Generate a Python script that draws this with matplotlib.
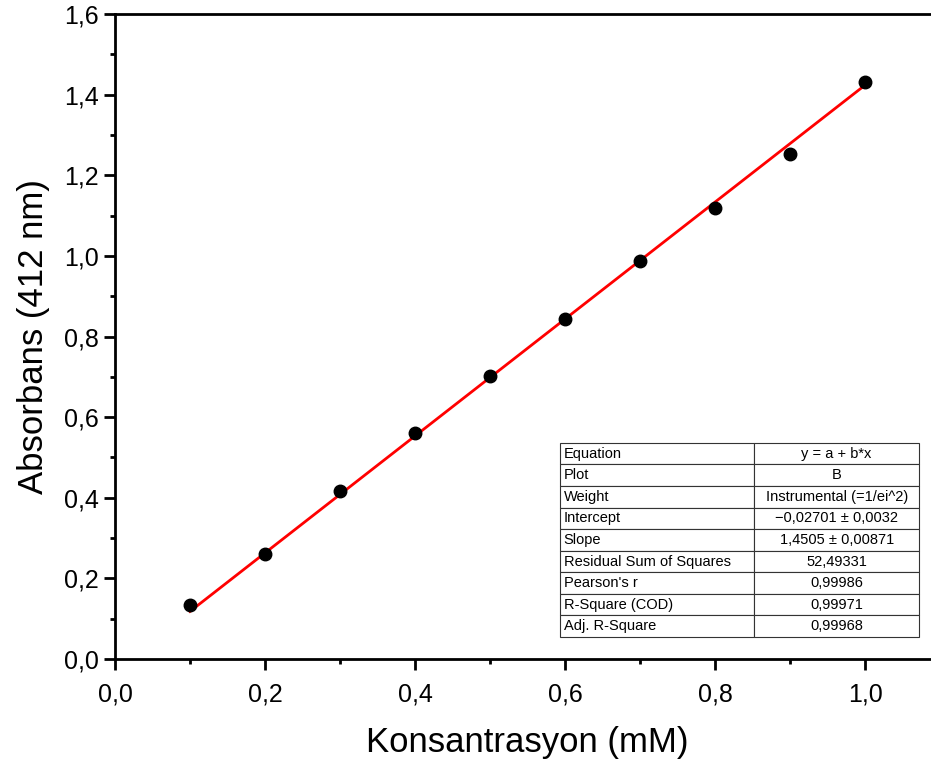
import matplotlib.pyplot as plt
from matplotlib.ticker import FuncFormatter, MultipleLocator

plt.rcParams['font.family'] = ['Liberation Sans', 'DejaVu Sans']

# calibration data
konsantrasyon = [0.1, 0.2, 0.3, 0.4, 0.5, 0.6, 0.7, 0.8, 0.9, 1.0]
absorbans = [0.134, 0.261, 0.417, 0.561, 0.702, 0.844, 0.988, 1.119, 1.253, 1.432]
hata = [0.004, 0.004, 0.004, 0.004, 0.004, 0.004, 0.004, 0.004, 0.006, 0.005]

# linear fit results
intercept = -0.02701
slope = 1.4505

fit_labels = ["Equation", "Plot", "Weight", "Intercept", "Slope",
              "Residual Sum of Squares", "Pearson's r", "R-Square (COD)",
              "Adj. R-Square"]
fit_values = ["y = a + b*x", "B", "Instrumental (=1/ei^2)",
              "\u22120,02701 \u00b1 0,0032", "1,4505 \u00b1 0,00871",
              "52,49331", "0,99986", "0,99971", "0,99968"]


def comma(v, pos):
    return f"{v:.1f}".replace('.', ',')


fig = plt.figure(figsize=(9.31, 7.64), dpi=100)
ax = fig.add_axes([115 / 931, 105 / 764, 825 / 931, 645 / 764])

ax.errorbar(konsantrasyon, absorbans, yerr=hata, fmt='o', color='black',
            ecolor='#888888', elinewidth=1, capsize=4, markersize=9, zorder=3)

x_fit = [konsantrasyon[0], konsantrasyon[-1]]
y_fit = [intercept + slope * x for x in x_fit]
ax.plot(x_fit, y_fit, color='red', linewidth=2, zorder=2)

ax.set_xlim(0, 1.1)
ax.set_ylim(0, 1.6)
ax.xaxis.set_major_locator(MultipleLocator(0.2))
ax.xaxis.set_minor_locator(MultipleLocator(0.1))
ax.yaxis.set_major_locator(MultipleLocator(0.2))
ax.yaxis.set_minor_locator(MultipleLocator(0.1))
ax.xaxis.set_major_formatter(FuncFormatter(comma))
ax.yaxis.set_major_formatter(FuncFormatter(comma))
ax.tick_params(which='major', direction='out', length=8, width=2, labelsize=18)
ax.tick_params(which='minor', direction='out', length=3.5, width=2)
ax.tick_params(axis='x', which='major', pad=9)
for side in ax.spines.values():
    side.set_linewidth(2)

ax.set_xlabel("Konsantrasyon (mM)", fontsize=25, labelpad=14)
ax.set_ylabel("Absorbans (412 nm)", fontsize=25, labelpad=10)

tbl = ax.table(cellText=[[a, b] for a, b in zip(fit_labels, fit_values)],
               colWidths=[0.54, 0.46],
               bbox=[0.539, 0.034, 0.436, 0.301], zorder=5)
tbl.auto_set_font_size(False)
tbl.set_fontsize(10.5)
for (r, c), cell in tbl.get_celld().items():
    cell.set_edgecolor('#333333')
    cell.set_linewidth(0.8)
    if c == 0:
        cell.set_text_props(ha='left')
        cell.PAD = 0.02
    else:
        cell.set_text_props(ha='center')

fig.savefig("out.png", dpi=100)
